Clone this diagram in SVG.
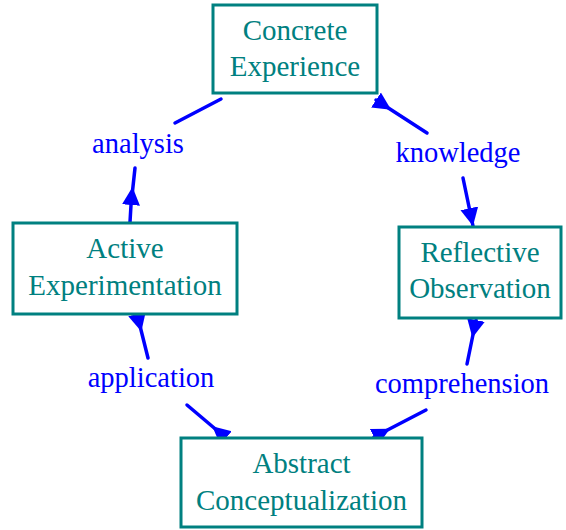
<svg xmlns="http://www.w3.org/2000/svg" width="566" height="530" viewBox="0 0 566 530">
<style>
.box{fill:#ffffff;stroke:#008080;stroke-width:3}
.nt{font-family:"Liberation Serif","Times New Roman",serif;font-size:29px;fill:#008080;text-anchor:middle}
.lt{font-family:"Liberation Serif","Times New Roman",serif;font-size:28.5px;fill:#0000ff;text-anchor:middle}
.conn{fill:none;stroke:#0000ff;stroke-width:3.5;stroke-linecap:round;stroke-linejoin:round}
</style>
<defs>
<marker id="out" markerUnits="userSpaceOnUse" markerWidth="22" markerHeight="22" viewBox="0 -11 22 22" refX="0" refY="0" orient="auto">
<path d="M0,-9 L18,0 L0,9 Z" fill="#0000ff"/>
</marker>
<marker id="in" markerUnits="userSpaceOnUse" markerWidth="22" markerHeight="22" viewBox="0 -11 22 22" refX="18" refY="0" orient="auto">
<path d="M0,-9 L18,0 L0,9 Z" fill="#0000ff"/>
</marker>
</defs>
<rect width="566" height="530" fill="#ffffff"/>
<g id="connectors">
<path class="conn" d="M376,100 L427,133" marker-start="url(#out)"/>
<path class="conn" d="M463,178 L473,226" marker-end="url(#in)"/>
<path class="conn" d="M476,320 L467,364" marker-start="url(#out)"/>
<path class="conn" d="M374,437 L426,410" marker-start="url(#out)"/>
<path class="conn" d="M226,438 L187,405" marker-start="url(#out)"/>
<path class="conn" d="M137,314 L148,358" marker-start="url(#out)"/>
<path class="conn" d="M130,222 L131,205 L135,168" marker-mid="url(#out)"/>
<path class="conn" d="M175,123 L221,99"/>
</g>
<g id="concrete-experience">
<rect class="box" x="213" y="5" width="164" height="88"/>
<text class="nt" x="295" y="40">Concrete</text>
<text class="nt" x="295" y="76">Experience</text>
</g>
<g id="reflective-observation">
<rect class="box" x="399" y="227" width="162" height="91"/>
<text class="nt" x="480" y="262">Reflective</text>
<text class="nt" x="480" y="298">Observation</text>
</g>
<g id="active-experimentation">
<rect class="box" x="13" y="223" width="224" height="91"/>
<text class="nt" x="125" y="258">Active</text>
<text class="nt" x="125" y="295">Experimentation</text>
</g>
<g id="abstract-conceptualization">
<rect class="box" x="181" y="438" width="241" height="89"/>
<text class="nt" x="301.5" y="473">Abstract</text>
<text class="nt" x="301.5" y="510">Conceptualization</text>
</g>
<g id="label-knowledge"><text class="lt" x="458" y="162">knowledge</text></g>
<g id="label-analysis"><text class="lt" x="138" y="153">analysis</text></g>
<g id="label-application"><text class="lt" x="151" y="387">application</text></g>
<g id="label-comprehension"><text class="lt" x="462" y="393">comprehension</text></g>
</svg>
